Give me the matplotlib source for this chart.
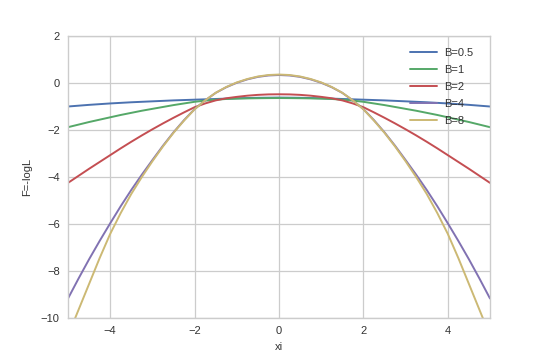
import matplotlib
matplotlib.use("Agg")
import matplotlib.pyplot as plt

# x positions (read at 0.25 steps on the left half; curves are symmetric)
xi_half = [-5.0, -4.75, -4.5, -4.25, -4.0, -3.75, -3.5, -3.25, -3.0, -2.75, -2.5,
           -2.25, -2.0, -1.75, -1.5, -1.25, -1.0, -0.75, -0.5, -0.25, 0.0]

b05_half = [-1.00, -0.965, -0.93, -0.90, -0.87, -0.845, -0.82, -0.80, -0.78, -0.76, -0.74,
            -0.725, -0.71, -0.695, -0.68, -0.665, -0.65, -0.64, -0.63, -0.625, -0.62]
b1_half = [-1.88, -1.77, -1.66, -1.56, -1.46, -1.36, -1.27, -1.18, -1.10, -1.02, -0.94,
           -0.87, -0.80, -0.75, -0.71, -0.68, -0.665, -0.655, -0.648, -0.643, -0.64]
b2_half = [-4.25, -3.95, -3.65, -3.36, -3.07, -2.78, -2.50, -2.23, -1.97, -1.72, -1.48,
           -1.25, -1.03, -0.87, -0.74, -0.65, -0.59, -0.54, -0.505, -0.485, -0.48]
b4_half = [-9.17, -8.32, -7.50, -6.72, -5.97, -5.24, -4.55, -3.90, -3.28, -2.67, -2.10,
           -1.58, -1.11, -0.74, -0.42, -0.18, 0.01, 0.155, 0.26, 0.32, 0.34]
b8_half = [-10.75, -9.65, -8.55, -7.45, -6.42, -5.53, -4.72, -4.00, -3.33, -2.70, -2.12,
           -1.60, -1.12, -0.74, -0.416, -0.17, 0.025, 0.17, 0.277, 0.34, 0.36]

labels = ["B=0.5", "B=1", "B=2", "B=4", "B=8"]
colors = ["#4C72B0", "#55A868", "#C44E52", "#8172B2", "#CCB974"]

def mirror(xs, ys):
    x = list(xs) + [-v for v in reversed(xs[:-1])]
    y = list(ys) + list(reversed(ys[:-1]))
    return x, y

plt.rcParams['font.family'] = ['Liberation Sans', 'DejaVu Sans']

W, H = 545, 363
fig = plt.figure(figsize=(W / 100, H / 100), dpi=100)
ax = fig.add_axes([68 / W, 1 - 318 / H, (490 - 68) / W, (318 - 36) / H])

for ys, lab, c in zip([b05_half, b1_half, b2_half, b4_half, b8_half], labels, colors):
    x, y = mirror(xi_half, ys)
    ax.plot(x, y, color=c, lw=1.4, label=lab, solid_capstyle="round")

ax.set_xlim(-5, 5)
ax.set_ylim(-10, 2)
ax.set_xticks([-4, -2, 0, 2, 4])
ax.set_yticks([-10, -8, -6, -4, -2, 0, 2])
ax.grid(True, color="#cccccc", lw=0.9)
ax.set_axisbelow(True)
for s in ax.spines.values():
    s.set_color("#cccccc")
    s.set_linewidth(1.0)
ax.tick_params(length=0, labelsize=8, colors="#333333", pad=6)
ax.set_xlabel("xi", fontsize=8, color="#333333", labelpad=4)
ax.set_ylabel("F=-logL", fontsize=8, color="#333333", labelpad=6)
leg = ax.legend(loc="upper left", bbox_to_anchor=(410 / W, 1 - 48 / H),
                bbox_transform=fig.transFigure, frameon=False, fontsize=8,
                handlelength=2.4, handletextpad=0.7, labelspacing=0.62,
                borderpad=0, borderaxespad=0)
for t in leg.get_texts():
    t.set_color("#333333")

fig.savefig("out.png", dpi=100)
